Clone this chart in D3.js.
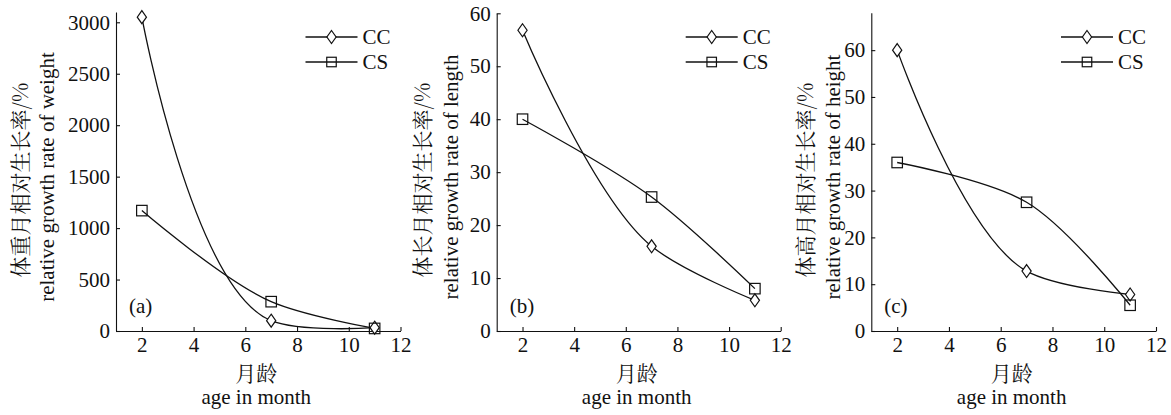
<!DOCTYPE html>
<html>
<head>
<meta charset="utf-8"/>
<script src="https://d3js.org/d3.v7.min.js" charset="utf-8"></script>
<style>
body { margin: 0; background: #fff; }
svg text { fill: #111; }
.serif { font-family: "Liberation Serif", "Times New Roman", serif; }
.cjk { font-family: "Noto Serif CJK SC", "Liberation Serif", serif; }
</style>
</head>
<body>
<svg id="svg" width="1171" height="415"></svg>
<script>
// data
var months = [2, 7, 11];
var seriesNames = ["CC", "CS"];

var weightCC = [3050, 100, 32];
var weightCS = [1170, 285, 25];
var lengthCC = [56.8, 16, 5.8];
var lengthCS = [40, 25.3, 8];
var heightCC = [60, 12.8, 7.8];
var heightCS = [36, 27.5, 5.5];

var monthTicks = [2, 4, 6, 8, 10, 12];
var weightTicks = [0, 500, 1000, 1500, 2000, 2500, 3000];
var lengthTicks = [0, 10, 20, 30, 40, 50, 60];
var heightTicks = [0, 10, 20, 30, 40, 50, 60];

var panelTags = ["(a)", "(b)", "(c)"];
var yTitleCn = ["体重月相对生长率/%", "体长月相对生长率/%", "体高月相对生长率/%"];
var yTitleEn = ["relative growth rate of weight", "relative growth rate of length", "relative growth rate of height"];
var xTitleCn = "月龄";
var xTitleEn = "age in month";

var svg = d3.select("#svg");
var bottom = 331;
var ink = "#111";

// layout of the three panels
var panels = [
  { left: 116, right: 400.5, top: 12, yMax: 3100, ticks: weightTicks, cc: weightCC, cs: weightCS, cnX: -96, enX: -68 },
  { left: 496.7, right: 780.7, top: 13.3, yMax: 60, ticks: lengthTicks, cc: lengthCC, cs: lengthCS, cnX: -74, enX: -45 },
  { left: 871.3, right: 1156, top: 12.7, yMax: 68, ticks: heightTicks, cc: heightCC, cs: heightCS, cnX: -66, enX: -38 }
];

var diamond = function(g, cx, cy) {
  g.append("path")
    .attr("d", "M" + cx + "," + (cy - 6.5) + "L" + (cx + 4.6) + "," + cy + "L" + cx + "," + (cy + 6.5) + "L" + (cx - 4.6) + "," + cy + "Z")
    .attr("fill", "#fff").attr("stroke", ink).attr("stroke-width", 1.2);
};
var square = function(g, cx, cy, s) {
  g.append("rect")
    .attr("x", cx - s / 2).attr("y", cy - s / 2)
    .attr("width", s).attr("height", s)
    .attr("fill", "none").attr("stroke", ink).attr("stroke-width", 1.2);
};

panels.forEach(function(p, i) {
  var x = d3.scaleLinear().domain([1, 12]).range([p.left, p.right]);
  var y = d3.scaleLinear().domain([0, p.yMax]).range([bottom, p.top]);
  var g = svg.append("g");

  var xAxisG = g.append("g")
    .attr("transform", "translate(0," + bottom + ")")
    .call(d3.axisBottom(x).tickValues(monthTicks).tickFormat(d3.format("d"))
      .tickSizeInner(-4).tickSizeOuter(0).tickPadding(6));
  var yAxisG = g.append("g")
    .attr("transform", "translate(" + p.left + ",0)")
    .call(d3.axisLeft(y).tickValues(p.ticks).tickFormat(d3.format("d"))
      .tickSizeInner(-4).tickSizeOuter(0).tickPadding(6));

  [xAxisG, yAxisG].forEach(function(a) {
    a.attr("font-family", "Liberation Serif").attr("font-size", 21);
    a.selectAll("path, line").attr("stroke", ink).attr("stroke-width", 1.1);
    a.selectAll("text").attr("fill", ink);
  });

  var line = d3.line()
    .x(function(d) { return x(d[0]); })
    .y(function(d) { return y(d[1]); })
    .curve(d3.curveCatmullRom.alpha(0.85));

  var ccPts = months.map(function(m, k) { return [m, p.cc[k]]; });
  var csPts = months.map(function(m, k) { return [m, p.cs[k]]; });

  g.append("path").datum(ccPts).attr("d", line)
    .attr("fill", "none").attr("stroke", ink).attr("stroke-width", 1.3);
  g.append("path").datum(csPts).attr("d", line)
    .attr("fill", "none").attr("stroke", ink).attr("stroke-width", 1.3);

  ccPts.forEach(function(d) { diamond(g, x(d[0]), y(d[1])); });
  csPts.forEach(function(d) { square(g, x(d[0]), y(d[1]), 10.5); });

  // legend
  var legY = [37, 62];
  seriesNames.forEach(function(name, k) {
    g.append("line")
      .attr("x1", p.right - 95).attr("x2", p.right - 43)
      .attr("y1", legY[k]).attr("y2", legY[k])
      .attr("stroke", ink).attr("stroke-width", 1.3);
    if (k == 0) diamond(g, p.right - 69, legY[k]);
    else square(g, p.right - 69, legY[k], 9.5);
    g.append("text").attr("class", "serif")
      .attr("x", p.right - 38).attr("y", legY[k] + 7)
      .attr("font-size", 21)
      .text(name);
  });

  // panel tag
  g.append("text").attr("class", "serif")
    .attr("x", p.left + 13).attr("y", 313)
    .attr("font-size", 21)
    .text(panelTags[i]);

  // axis titles
  var cx = (p.left + p.right) / 2 - 2;
  g.append("text").attr("class", "cjk")
    .attr("x", cx).attr("y", 381)
    .attr("text-anchor", "middle").attr("font-size", 21)
    .text(xTitleCn);
  g.append("text").attr("class", "serif")
    .attr("x", cx).attr("y", 404)
    .attr("text-anchor", "middle").attr("font-size", 21)
    .text(xTitleEn);

  g.append("text").attr("class", "cjk")
    .attr("transform", "translate(" + (p.left + p.cnX) + ",180) rotate(-90)")
    .attr("text-anchor", "middle").attr("dy", "0.36em").attr("font-size", 21)
    .text(yTitleCn[i]);
  g.append("text").attr("class", "serif")
    .attr("transform", "translate(" + (p.left + p.enX) + ",177) rotate(-90)")
    .attr("text-anchor", "middle").attr("dy", "0.3em").attr("font-size", 21)
    .text(yTitleEn[i]);
});
</script>
</body>
</html>
